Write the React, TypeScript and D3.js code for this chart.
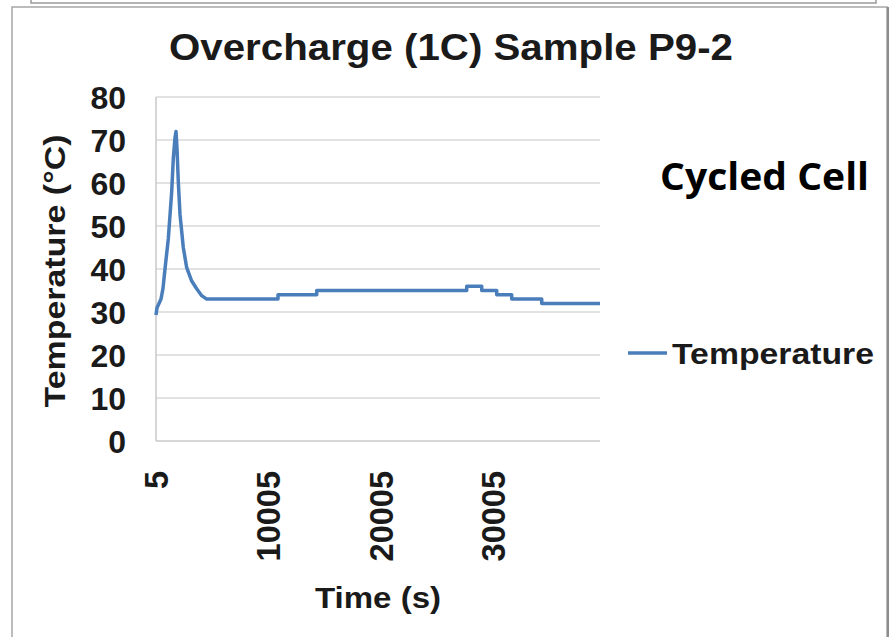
import { useEffect, useRef } from "react"
import * as d3 from "d3"

const times = [
  5, 94, 272, 450, 627, 805, 1098, 1401, 1543, 1694, 1783, 1872, 1988, 2139, 2432, 2734, 3179, 3623, 4068, 4512,
  10851, 10851, 14292, 14292, 27627, 27627, 28961, 28961, 30294, 30294, 31628, 31628, 34295, 34295, 39476,
]
const temps = [
  29.3, 31, 32, 33, 35.5, 40, 47, 58, 65.7, 70.5, 72, 68, 60.3, 52.7, 45, 40.3, 37.2, 35.4, 33.8, 33,
  33, 34, 34, 35, 35, 36, 36, 35, 35, 34, 34, 33, 33, 32, 32,
]
const yTicks = [0, 10, 20, 30, 40, 50, 60, 70, 80]
const xTicks = [5, 10005, 20005, 30005]

const FONT = "'Liberation Sans', Arial, sans-serif"

export default function App() {
  const svgRef = useRef<SVGSVGElement>(null)

  useEffect(() => {
    if (!svgRef.current) return
    const svg = d3.select(svgRef.current)
    svg.selectAll("*").remove()

    const W = 894
    const H = 637
    const plot = { left: 156, right: 600, top: 97, bottom: 441 }

    svg.append("rect").attr("width", W).attr("height", H).attr("fill", "#fff")

    // frame of the chart above (cut off) and of this chart
    svg
      .append("rect")
      .attr("x", 31)
      .attr("y", -20)
      .attr("width", 845)
      .attr("height", 23)
      .attr("fill", "none")
      .attr("stroke", "#9a9a9a")
      .attr("stroke-width", 1.5)
    svg
      .append("rect")
      .attr("x", 12)
      .attr("y", 7)
      .attr("width", 875)
      .attr("height", 660)
      .attr("fill", "none")
      .attr("stroke", "#a6a6a6")
      .attr("stroke-width", 1.5)
    svg
      .append("line")
      .attr("x1", 888)
      .attr("x2", 888)
      .attr("y1", 7)
      .attr("y2", H)
      .attr("stroke", "#8c8c8c")
      .attr("stroke-width", 2)

    const x = d3.scaleLinear().domain([5, 39476]).range([plot.left, plot.right])
    const y = d3.scaleLinear().domain([0, 80]).range([plot.bottom, plot.top])

    // gridlines
    svg
      .append("g")
      .selectAll("line")
      .data(yTicks.filter((d) => d > 0))
      .enter()
      .append("line")
      .attr("x1", plot.left)
      .attr("x2", plot.right)
      .attr("y1", (d) => y(d))
      .attr("y2", (d) => y(d))
      .attr("stroke", "#d9d9d9")
      .attr("stroke-width", 1.5)

    // axis lines
    svg
      .append("line")
      .attr("x1", plot.left)
      .attr("x2", plot.right)
      .attr("y1", plot.bottom)
      .attr("y2", plot.bottom)
      .attr("stroke", "#c8c8c8")
      .attr("stroke-width", 1.5)
    svg
      .append("line")
      .attr("x1", plot.left)
      .attr("x2", plot.left)
      .attr("y1", plot.top)
      .attr("y2", plot.bottom)
      .attr("stroke", "#c8c8c8")
      .attr("stroke-width", 1.5)

    // y tick labels
    svg
      .append("g")
      .selectAll("text")
      .data(yTicks)
      .enter()
      .append("text")
      .attr("x", 126)
      .attr("y", (d) => y(d))
      .attr("dy", "0.36em")
      .attr("text-anchor", "end")
      .attr("font-family", FONT)
      .attr("font-weight", "bold")
      .attr("font-size", 32)
      .attr("fill", "#1a1a1a")
      .text((d) => d)

    // x tick labels, rotated
    svg
      .append("g")
      .selectAll("text")
      .data(xTicks)
      .enter()
      .append("text")
      .attr("transform", (d) => `translate(${x(d)},471) rotate(-90)`)
      .attr("dy", "0.36em")
      .attr("text-anchor", "end")
      .attr("font-family", FONT)
      .attr("font-weight", "bold")
      .attr("font-size", 32.5)
      .attr("fill", "#1a1a1a")
      .text((d) => d)

    // line
    const pts = times.map((t, i) => [t, temps[i]] as [number, number])
    const line = d3
      .line<[number, number]>()
      .x((d) => x(d[0]))
      .y((d) => y(d[1]))
    svg
      .append("path")
      .datum(pts)
      .attr("fill", "none")
      .attr("stroke", "#4a7ebb")
      .attr("stroke-width", 3.5)
      .attr("stroke-linejoin", "round")
      .attr("d", line)

    // title
    svg
      .append("text")
      .attr("x", 451)
      .attr("y", 60)
      .attr("text-anchor", "middle")
      .attr("font-family", FONT)
      .attr("font-weight", "bold")
      .attr("font-size", 37)
      .attr("textLength", 564)
      .attr("lengthAdjust", "spacingAndGlyphs")
      .attr("fill", "#1a1a1a")
      .text("Overcharge (1C) Sample P9-2")

    // axis titles
    svg
      .append("text")
      .attr("transform", `translate(65,271) rotate(-90)`)
      .attr("text-anchor", "middle")
      .attr("font-family", FONT)
      .attr("font-weight", "bold")
      .attr("font-size", 29)
      .attr("textLength", 273)
      .attr("lengthAdjust", "spacingAndGlyphs")
      .attr("fill", "#1a1a1a")
      .text("Temperature (°C)")
    svg
      .append("text")
      .attr("x", 378)
      .attr("y", 608)
      .attr("text-anchor", "middle")
      .attr("font-family", FONT)
      .attr("font-weight", "bold")
      .attr("font-size", 30)
      .attr("textLength", 126)
      .attr("lengthAdjust", "spacingAndGlyphs")
      .attr("fill", "#1a1a1a")
      .text("Time (s)")

    // legend
    svg
      .append("line")
      .attr("x1", 628)
      .attr("x2", 667)
      .attr("y1", 353)
      .attr("y2", 353)
      .attr("stroke", "#4a7ebb")
      .attr("stroke-width", 3.5)
    svg
      .append("text")
      .attr("x", 672)
      .attr("y", 353)
      .attr("dy", "0.36em")
      .attr("font-family", FONT)
      .attr("font-weight", "bold")
      .attr("font-size", 30)
      .attr("textLength", 202)
      .attr("lengthAdjust", "spacingAndGlyphs")
      .attr("fill", "#1a1a1a")
      .text("Temperature")

    // annotation
    svg
      .append("text")
      .attr("x", 660)
      .attr("y", 190)
      .attr("font-family", "'Open Sans', sans-serif")
      .attr("font-weight", "bold")
      .attr("font-size", 38)
      .attr("textLength", 209)
      .attr("lengthAdjust", "spacingAndGlyphs")
      .attr("fill", "#000")
      .text("Cycled Cell")
  }, [])

  return (
    <div style={{ position: "fixed", left: 0, top: 0 }}>
      <svg ref={svgRef} width={894} height={637} style={{ display: "block" }}></svg>
    </div>
  )
}
